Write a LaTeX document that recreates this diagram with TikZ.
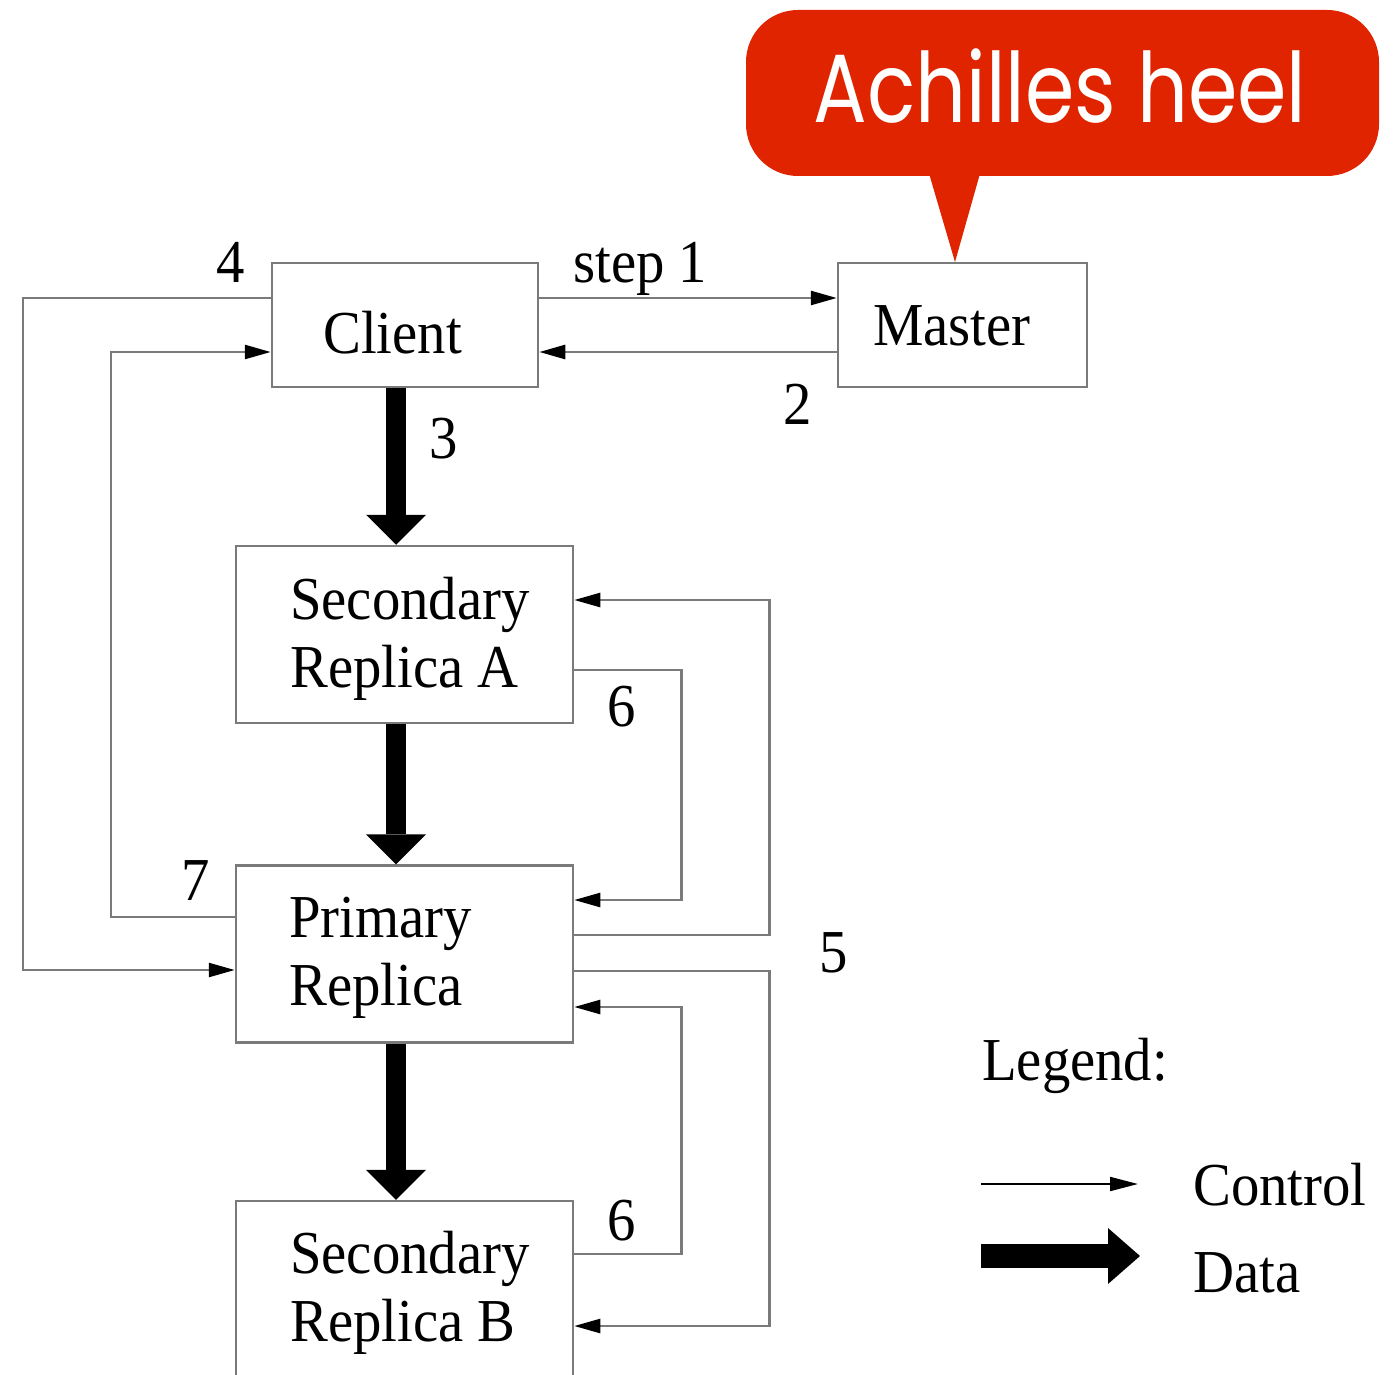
\documentclass[tikz,border=0pt]{standalone}
\usepackage{fontspec}
\setmainfont[FakeStretch=0.93]{Liberation Serif}
\newfontfamily\callfont[FakeStretch=0.82]{Poppins}
\usetikzlibrary{arrows.meta}
\definecolor{calred}{HTML}{E02400}
\definecolor{linegray}{HTML}{7A7A7A}
\begin{document}
\begin{tikzpicture}[x=1pt,y=-1pt,
  txt/.style={font=\fontsize{61}{68}\selectfont, inner sep=0pt},
  box/.style={draw=linegray, line width=2.5pt, inner sep=0pt},
  rbox/.style={box, minimum width=337pt, minimum height=177pt},
  btxt/.style={txt, align=left, anchor=base west},
  ctrl/.style={draw=linegray, line width=2.5pt, -{Triangle[length=26pt,width=14pt,color=black]}},
  data/.style={black, line width=20pt, -{Triangle[length=30pt,width=60pt,line width=0pt]}},
  lbl/.style={txt, anchor=base},
]
\useasboundingbox (0,0) rectangle (1395,1375);
\clip (0,0) rectangle (1395,1375);

% callout
\fill[calred, rounded corners=52pt] (746,10) rectangle (1379,176);
\fill[calred] (928,170) -- (955,262) -- (981,170) -- cycle;
\node[text=white, font=\callfont\fontsize{97}{100}\selectfont, anchor=base, inner sep=0pt] (heel) at (1060,123) {Achilles heel};

% boxes
\node[box, minimum width=266pt, minimum height=124pt] (client) at (405,325) {};
\node[box, minimum width=249pt, minimum height=124pt] (master) at (962.5,325) {};
\node[rbox] (seca) at (404.5,634.5) {};
\node[rbox] (prim) at (404.5,954) {};
\node[rbox] (secb) at (404.5,1289.5) {};

% box texts (anchored at the baseline of the last line)
\node[btxt] (clientt) at (323,353) {Client};
\node[btxt] (mastert) at (873,345) {Master};
\node[btxt] (secat) at (290,687) {Secondary\\Replica A};
\node[btxt] (primt) at (289,1005) {Primary\\Replica};
\node[btxt] (secbt) at (290,1341) {Secondary\\Replica B};

% control flow
\draw[ctrl] ([yshift=27pt]client.east) -- ([yshift=27pt]master.west);
\draw[ctrl] ([yshift=-27pt]master.west) -- ([yshift=-27pt]client.east);
\draw[ctrl] ([yshift=27pt]client.west) -- ++(-248,0) |- ([yshift=-16pt]prim.west);
\draw[ctrl] ([yshift=37pt]prim.west) -- ++(-124,0) |- ([yshift=-27pt]client.west);
\draw[ctrl] ([yshift=-35.5pt]seca.east) -- ++(107,0) |- ([yshift=54pt]prim.east);
\draw[ctrl] ([yshift=19pt]prim.east) -- ++(195,0) |- ([yshift=34.5pt]seca.east);
\draw[ctrl] ([yshift=-17pt]prim.east) -- ++(195,0) |- ([yshift=-36.5pt]secb.east);
\draw[ctrl] ([yshift=35.5pt]secb.east) -- ++(107,0) |- ([yshift=-53pt]prim.east);

% data flow
\draw[data] ([xshift=-9pt]client.south) -- ([xshift=-8.5pt]seca.north);
\draw[data] ([xshift=-8.5pt]seca.south) -- ([xshift=-8.5pt]prim.north);
\draw[data] ([xshift=-8.5pt]prim.south) -- ([xshift=-8.5pt]secb.north);

% labels
\node[lbl] (l4) at (231,282) {4};
\node[lbl, anchor=base west] (l1) at (573,282) {step 1};
\node[lbl] (l2) at (798,424) {2};
\node[lbl] (l3) at (444,458) {3};
\node[lbl] (l6a) at (622,726) {6};
\node[lbl] (l7) at (196,900) {7};
\node[lbl] (l5) at (834,972) {5};
\node[lbl] (l6b) at (622,1240) {6};

% legend
\node[lbl, anchor=base west] (leg) at (982,1080) {Legend:};
\coordinate (c0) at (981,1184);
\coordinate (c1) at (1138,1184);
\draw[black, line width=2pt, -{Triangle[length=28pt,width=14pt]}] (c0) -- (c1);
\node[lbl, anchor=base west] (lc) at (1193,1205) {Control};
\coordinate (d0) at (981,1256);
\coordinate (d1) at (1140,1256);
\draw[black, line width=24pt, -{Triangle[length=32pt,width=56pt,line width=0pt]}] (d0) -- (d1);
\node[lbl, anchor=base west] (ld) at (1193,1292) {Data};
\end{tikzpicture}
\end{document}
